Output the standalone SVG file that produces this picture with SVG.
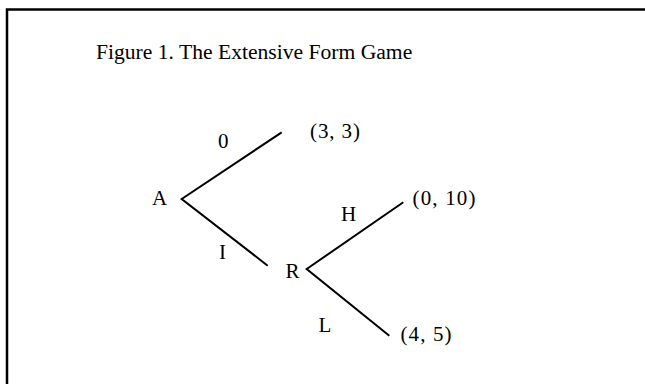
<svg xmlns="http://www.w3.org/2000/svg" width="645" height="384" viewBox="0 0 645 384">
<style>
text{font-family:"Liberation Serif","Times New Roman",serif;fill:#000}
.t{font-size:21.6px}
.l{font-size:21px}
.e{stroke:#000;stroke-width:2;fill:none;stroke-linejoin:miter}
.f{stroke:#000;stroke-width:2.5;fill:none}
</style>
<rect width="645" height="384" fill="#fff"/>
<g id="frame">
<path class="f" d="M7 384V9.5H645"/>
</g>
<g id="title"><text class="t" x="96" y="59">Figure 1. The Extensive Form Game</text></g>
<g id="connectors">
<path class="e" d="M281.7 132.3L181.7 199L267.7 265.7"/>
<path class="e" d="M403.3 202.3L306.7 269L389.3 335.7"/>
</g>
<g id="node-A"><text class="l" x="152" y="205">A</text></g>
<g id="node-R"><text class="l" x="285.5" y="278">R</text></g>
<g id="leaf-33"><text class="l" x="310" y="138" textLength="50">(3, 3)</text></g>
<g id="leaf-010"><text class="l" x="412.5" y="205" textLength="63">(0, 10)</text></g>
<g id="leaf-45"><text class="l" x="400.5" y="341" textLength="51">(4, 5)</text></g>
<g id="labels">
<text class="l" x="218" y="148">0</text>
<text class="l" x="219" y="259">I</text>
<text class="l" x="341" y="221">H</text>
<text class="l" x="318.5" y="332">L</text>
</g>
</svg>
